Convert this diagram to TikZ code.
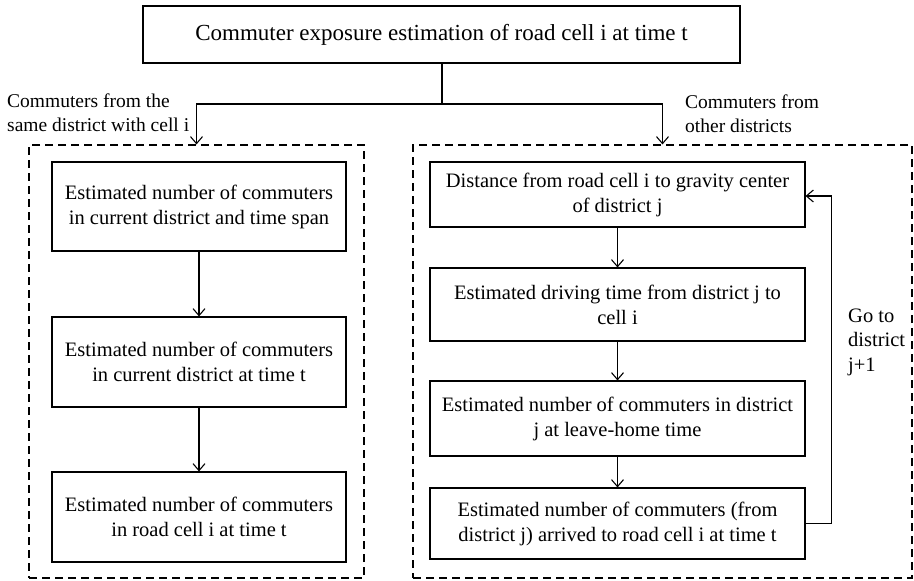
\documentclass[tikz,border=0pt]{standalone}
\usepackage{fontspec}
\setmainfont{Liberation Serif}
\usetikzlibrary{arrows.meta,positioning}

\begin{document}
\begin{tikzpicture}[x=1pt, y=-1pt,
        stepbox/.style={draw, line width=1.1pt, align=center, inner sep=0pt,
            font=\fontsize{20.5}{25}\selectfont},
        frame/.style={draw, line width=1.1pt, dash pattern=on 8pt off 5pt, inner sep=0pt},
        flow/.style={line width=1.1pt, -{Straight Barb[length=7pt, width=12pt]}},
        note/.style={align=left, inner sep=0pt, font=\fontsize{19.5}{24}\selectfont}]
        \useasboundingbox (0,0) rectangle (914,581);

        % --- 1. Top box ---
        \node[stepbox, minimum width=597pt, minimum height=57pt,
            font=\fontsize{23}{27}\selectfont] (top) at (441.5,34.5)
            {Commuter exposure estimation of road cell i at time t};

        % --- 2. Dashed frames ---
        \node[frame, minimum width=335pt, minimum height=433pt] (sameframe) at (196.5,361.5) {};
        \node[frame, minimum width=499pt, minimum height=433pt] (otherframe) at (662.5,361.5) {};

        % --- 3. Same district (left) ---
        \node[stepbox, minimum width=294pt, minimum height=89pt] (same1) at (199,206.5)
            {Estimated number of commuters\\in current district and time span};
        \node[stepbox, minimum width=294pt, minimum height=90pt] (same2) at (199,362)
            {Estimated number of commuters\\in current district at time t};
        \node[stepbox, minimum width=294pt, minimum height=90pt] (same3) at (199,517)
            {Estimated number of commuters\\in road cell i at time t};

        % --- 4. Other districts (right) ---
        \node[stepbox, minimum width=375pt, minimum height=65pt] (other1) at (617.5,194.5)
            {Distance from road cell i to gravity center\\of district j};
        \node[stepbox, minimum width=375pt, minimum height=73pt] (other2) at (617.5,304.5)
            {Estimated driving time from district j to\\cell i};
        \node[stepbox, minimum width=375pt, minimum height=75pt] (other3) at (617.5,418.5)
            {Estimated number of commuters in district\\j at leave-home time};
        \node[stepbox, minimum width=375pt, minimum height=71pt] (other4) at (617.5,523.5)
            {Estimated number of commuters (from\\district j) arrived to road cell i at time t};

        % --- 5. Labels ---
        \node[note, anchor=north west] (samelabel) at (7,94)
            {Commuters from the\\same district with cell i};
        \node[note, anchor=north west] (otherlabel) at (685,95)
            {Commuters from\\other districts};
        \node[note, anchor=west, font=\fontsize{20.5}{24.5}\selectfont] (golabel) at (848,342)
            {Go to\\district\\j+1};

        % --- 6. Connectors ---
        \coordinate (split) at (442,104);
        \draw[line width=1.1pt] (top.south -| split) -- (split);
        \draw[flow] (split) -| (sameframe.north);
        \draw[flow] (split) -| (otherframe.north);
        \draw[flow] (same1) -- (same2);
        \draw[flow] (same2) -- (same3);
        \draw[flow] (other1) -- (other2);
        \draw[flow] (other2) -- (other3);
        \draw[flow] (other3) -- (other4);
        % loop back to next district
        \draw[flow] (other4.east) -- ++(26,0) |- ([yshift=-1.5pt]other1.east);

    \end{tikzpicture}
\end{document}
